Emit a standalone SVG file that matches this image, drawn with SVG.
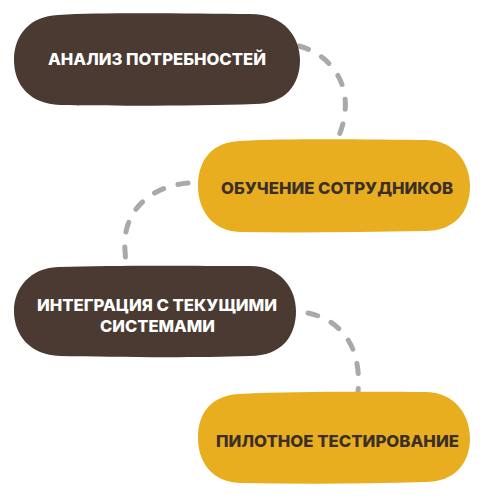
<svg xmlns="http://www.w3.org/2000/svg" width="490" height="500" viewBox="0 0 490 500">
<style>
.dark{fill:#4a3a31}
.yel{fill:#e8ae20}
.conn{fill:none;stroke:#a9a9a9;stroke-width:5;stroke-linecap:round;stroke-dasharray:10 15}
.t{font-family:Inter,"DejaVu Sans",sans-serif;font-weight:800;font-size:16px;text-anchor:middle}
.tw{fill:#ffffff}
.td{fill:#3b2f28}
</style>
<rect width="490" height="500" fill="#ffffff"/>
<g id="connectors">
<path class="conn" d="M 299 46 C 335 56, 358 92, 338 138"/>
<path class="conn" d="M 188 183 C 146 187, 122 215, 125 250 L 126 268"/>
<path class="conn" d="M 308 313 C 340 320, 362 345, 358 392"/>
</g>
<g id="node1">
<path class="dark" d="M 58 15 C 110 12, 200 14, 250 14 C 285 14, 300 38, 300 60 C 300 85, 285 104, 255 104 C 200 106, 110 106, 60 105 C 30 104, 14 85, 14 60 C 14 35, 30 16, 58 15 Z"/>
<text class="t tw" x="157" y="65" textLength="218" lengthAdjust="spacingAndGlyphs">АНАЛИЗ ПОТРЕБНОСТЕЙ</text>
</g>
<g id="node2">
<path class="yel" d="M 240 141 C 300 138, 380 140, 425 140 C 455 140, 470 163, 470 186 C 470 212, 455 231, 425 231 C 360 232, 300 233, 240 232 C 212 231, 198 210, 198 186 C 198 160, 212 142, 240 141 Z"/>
<text class="t td" x="337" y="194" textLength="232" lengthAdjust="spacingAndGlyphs">ОБУЧЕНИЕ СОТРУДНИКОВ</text>
</g>
<g id="node3">
<path class="dark" d="M 58 267 C 120 265, 200 266, 250 266 C 282 266, 296 290, 296 311 C 296 336, 282 356, 250 356 C 190 358, 110 357, 60 356 C 30 355, 14 335, 14 311 C 14 288, 30 268, 58 267 Z"/>
<text class="t tw" x="157" y="311" textLength="240" lengthAdjust="spacingAndGlyphs">ИНТЕГРАЦИЯ С ТЕКУЩИМИ</text>
<text class="t tw" x="157.5" y="332" textLength="115" lengthAdjust="spacingAndGlyphs">СИСТЕМАМИ</text>
</g>
<g id="node4">
<path class="yel" d="M 240 394 C 300 391, 380 392, 425 392 C 455 392, 470 415, 470 438 C 470 463, 455 482, 425 482 C 360 484, 300 484, 240 483 C 212 482, 198 462, 198 438 C 198 412, 212 395, 240 394 Z"/>
<text class="t td" x="337.5" y="447" textLength="243" lengthAdjust="spacingAndGlyphs">ПИЛОТНОЕ ТЕСТИРОВАНИЕ</text>
</g>
</svg>
